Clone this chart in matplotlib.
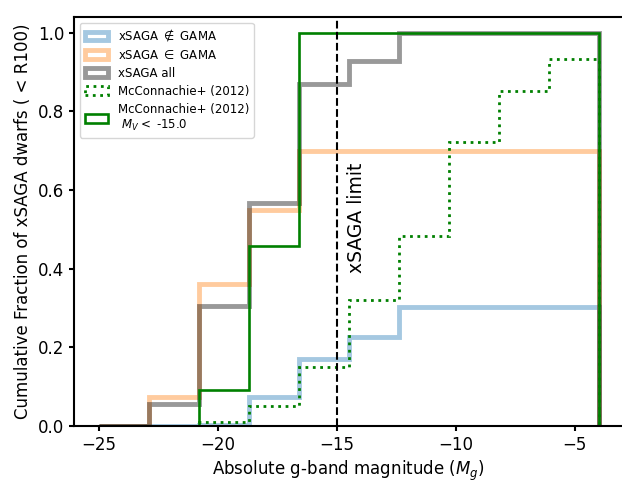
import numpy as np
import matplotlib
matplotlib.use("Agg")
import matplotlib.pyplot as plt
from matplotlib.patches import Patch

# bin edges (absolute g-band magnitude)
edges = np.linspace(-25, -4, 11)

# cumulative fractions per bin
xsaga_not_gama = [0.0, 0.0, 0.003, 0.075, 0.17, 0.227, 0.302, 0.302, 0.302, 0.302]
xsaga_in_gama  = [0.0, 0.074, 0.36, 0.548, 0.699, 0.699, 0.699, 0.699, 0.699, 0.699]
xsaga_all      = [0.0, 0.057, 0.304, 0.567, 0.87, 0.927, 1.0, 1.0, 1.0, 1.0]
mcconnachie    = [0.0, 0.0, 0.009, 0.05, 0.151, 0.321, 0.482, 0.722, 0.852, 0.934]
mcconnachie_bright = [0.0, 0.0, 0.091, 0.457, 1.0, 1.0, 1.0, 1.0, 1.0, 1.0]

labels = [r'xSAGA $\notin$ GAMA', r'xSAGA $\in$ GAMA', 'xSAGA all',
          'McConnachie+ (2012)', 'McConnachie+ (2012)\n $M_V <$ -15.0']

fig = plt.figure(figsize=(6.22, 4.82), dpi=100)
ax = fig.add_axes([74/622, 1-426/482, (623.5-74)/622, (426-17)/482])

styles = [
    dict(color='C0', alpha=0.4, lw=3.5, ls='-'),
    dict(color='C1', alpha=0.4, lw=3.5, ls='-'),
    dict(color='k', alpha=0.4, lw=3.5, ls='-'),
    dict(color='green', alpha=1.0, lw=2, ls=':'),
    dict(color='green', alpha=1.0, lw=1.9, ls='-'),
]
series = [xsaga_not_gama, xsaga_in_gama, xsaga_all, mcconnachie, mcconnachie_bright]

handles = []
for vals, st, lab in zip(series, styles, labels):
    ax.stairs(vals, edges, baseline=0, color=st['color'], alpha=st['alpha'],
              lw=st['lw'], ls=st['ls'])
    handles.append(Patch(facecolor='none', edgecolor=st['color'], alpha=st['alpha'],
                         lw=st['lw'], ls=st['ls'], label=lab))

ax.axvline(-15, color='k', ls='--', lw=1.5)
ax.text(-14.56, 0.39, 'xSAGA limit', rotation=90, ha='left', va='bottom', fontsize=13.5)

ax.set_xlim(-26.05, -2.95)
ax.set_ylim(0, 1.04)
ax.set_xticks([-25, -20, -15, -10, -5])
ax.set_yticks([0, 0.2, 0.4, 0.6, 0.8, 1.0])
ax.tick_params(labelsize=12, width=1.5)
for s in ax.spines.values():
    s.set_linewidth(1.5)
ax.set_xlabel(r'Absolute g-band magnitude ($M_g$)', fontsize=12)
ax.set_ylabel(r'Cumulative Fraction of xSAGA dwarfs ( < R100)', fontsize=12)
ax.legend(handles=handles, loc='upper left', fontsize=8.5, labelspacing=0.42)

fig.savefig('out.png', dpi=100)
